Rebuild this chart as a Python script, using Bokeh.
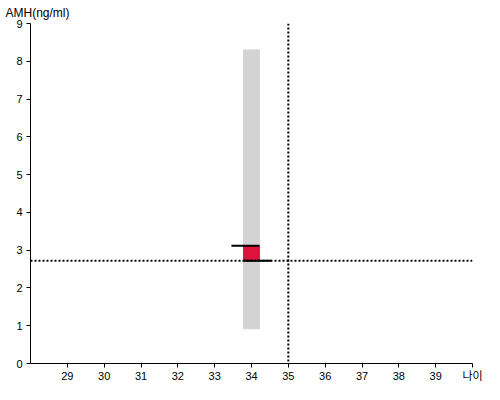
from bokeh.plotting import figure
from bokeh.models import Span, Title
from bokeh.embed import file_html
from bokeh.resources import INLINE

# data
ages = [34]
range_low = [0.92]
range_high = [8.3]
patient_low = [2.72]
patient_high = [3.12]
ref_age = 35
ref_amh = 2.72
x_ticks = [29, 30, 31, 32, 33, 34, 35, 36, 37, 38, 39, 40]
x_labels = {40: "나이"}
y_ticks = [0, 1, 2, 3, 4, 5, 6, 7, 8, 9]
y_title = "AMH(ng/ml)"

# styles
BAR_W = 0.43
CAP_EXT = 0.33

p = figure(width=484, height=384, x_range=(28, 40), y_range=(0, 9),
           output_backend="svg", toolbar_location=None,
           min_border_left=30, min_border_right=12, min_border_top=21, min_border_bottom=18)
p.grid.visible = False
p.outline_line_color = None

p.title = Title(text=y_title, align="left", offset=-25, standoff=7,
                text_font="Liberation Sans", text_font_size="12px",
                text_font_style="normal", text_color="black")

p.vbar(x=ages, width=BAR_W, bottom=range_low, top=range_high, color="#d3d3d3")
p.vbar(x=ages, width=BAR_W, bottom=patient_low, top=patient_high, color="#dc143c")

p.add_layout(Span(location=ref_amh, dimension="width", line_color="black",
                  line_dash="2 2", line_width=2))

a = ages[0]
p.segment(x0=[a - BAR_W / 2 - CAP_EXT], x1=[a + BAR_W / 2], y0=patient_high, y1=patient_high,
          line_color="black", line_width=2)
p.segment(x0=[a - BAR_W / 2], x1=[a + BAR_W / 2 + CAP_EXT], y0=patient_low, y1=patient_low,
          line_color="black", line_width=2)

p.add_layout(Span(location=ref_age, dimension="height", line_color="black",
                  line_dash="2 2", line_width=2))

for ax in (p.xaxis, p.yaxis):
    ax.axis_line_color = "black"
    ax.major_tick_line_color = "black"
    ax.minor_tick_line_color = None
    ax.major_tick_in = 0
    ax.major_tick_out = 4
    ax.major_label_text_font = "Liberation Sans, Noto Sans CJK KR"
    ax.major_label_text_font_size = "11px"
    ax.major_label_text_color = "black"
p.xaxis.ticker = x_ticks
p.xaxis.major_label_overrides = x_labels
p.yaxis.ticker = y_ticks
p.xaxis.major_label_standoff = 2
p.yaxis.major_label_standoff = 4

open("out.html", "w").write(file_html(p, INLINE))
